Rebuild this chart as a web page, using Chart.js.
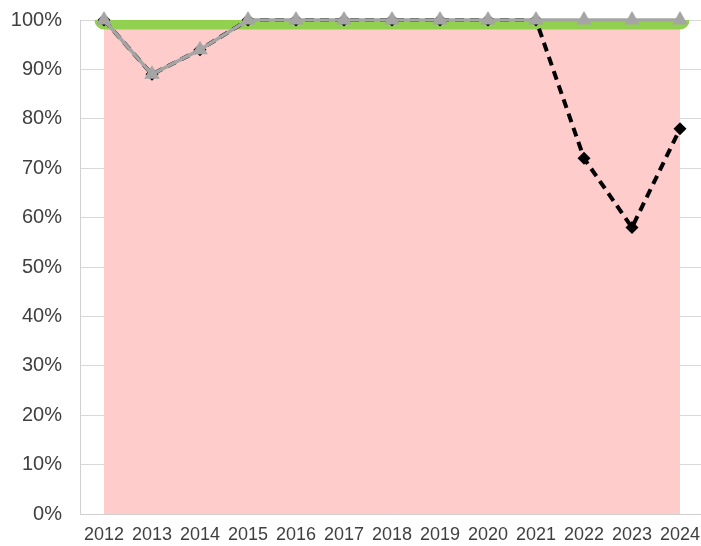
<!DOCTYPE html>
<html>
<head>
<meta charset="utf-8">
<script src="https://cdn.jsdelivr.net/npm/chart.js@4"></script>
<style>
  html, body { margin: 0; padding: 0; background: #fff; overflow: hidden; }
  #wrap { width: 704px; height: 546px; }
</style>
</head>
<body>
<div id="wrap"><canvas id="chart"></canvas></div>
<script>
const years = ['2012', '2013', '2014', '2015', '2016', '2017', '2018', '2019', '2020', '2021', '2022', '2023', '2024'];
const background = [100, 100, 100, 100, 100, 100, 100, 100, 100, 100, 100, 100, 100];
const target = [100, 100, 100, 100, 100, 100, 100, 100, 100, 100, 100, 100, 100];
const actual = [100, 89, 94, 100, 100, 100, 100, 100, 100, 100, 72, 58, 78];
const planned = [100, 89, 94, 100, 100, 100, 100, 100, 100, 100, 100, 100, 100];

const ctx = document.getElementById('chart').getContext('2d');
new Chart(ctx, {
  type: 'line',
  data: {
    labels: years,
    datasets: [
      {
        data: planned,
        borderColor: '#a5a5a5',
        backgroundColor: '#a5a5a5',
        borderWidth: 3.5,
        pointStyle: 'triangle',
        pointRadius: 9,
        pointBorderWidth: 0,
        tension: 0,
        clip: false,
        order: 1,
      },
      {
        data: actual,
        borderColor: '#000000',
        backgroundColor: '#000000',
        borderWidth: 4,
        borderDash: [9, 6],
        pointStyle: 'rectRot',
        pointRadius: 6.5,
        pointBorderWidth: 0,
        tension: 0,
        clip: false,
        order: 2,
      },
      {
        data: target,
        borderColor: '#92d050',
        borderWidth: 19,
        borderCapStyle: 'round',
        pointRadius: 0,
        clip: 0,
        order: 3,
      },
      {
        data: background,
        borderWidth: 0,
        pointRadius: 0,
        backgroundColor: '#ffcccc',
        fill: 'origin',
        order: 4,
      },
    ],
  },
  options: {
    responsive: true,
    maintainAspectRatio: false,
    animation: false,
    layout: { autoPadding: false, padding: { top: 20, right: 0, bottom: 0, left: 0 } },
    plugins: { legend: { display: false }, tooltip: { enabled: false } },
    scales: {
      x: {
        offset: true,
        grid: { display: false, drawTicks: false },
        border: { color: '#d0d0d0', width: 1 },
        ticks: {
          color: '#404040',
          font: { family: 'Liberation Sans', size: 18 },
          padding: 10,
          maxRotation: 0,
          autoSkip: false,
        },
        afterFit(scale) {
          scale.height = 32;
          scale.paddingLeft = 0;
          scale.paddingRight = 0;
        },
      },
      y: {
        min: 0,
        max: 100,
        grid: { color: '#d9d9d9', drawTicks: false },
        border: { color: '#d0d0d0', width: 1 },
        ticks: {
          stepSize: 10,
          color: '#404040',
          font: { family: 'Liberation Sans', size: 20 },
          padding: 18,
          callback: (v) => v + '%',
        },
        afterFit(scale) {
          scale.width = 80;
          scale.paddingTop = 0;
          scale.paddingBottom = 0;
        },
      },
    },
  },
});
</script>
</body>
</html>
